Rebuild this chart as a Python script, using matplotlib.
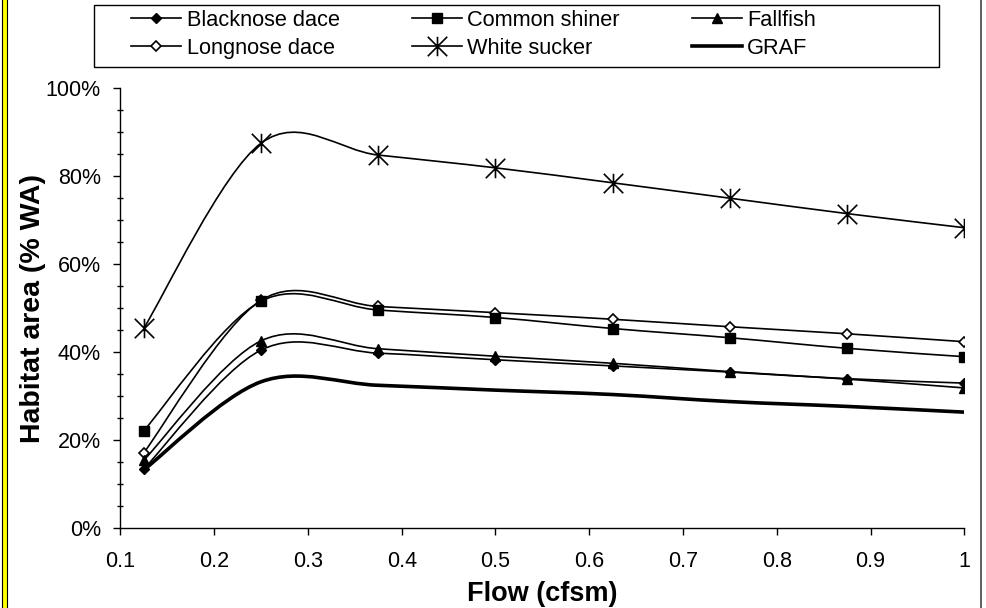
import numpy as np
import matplotlib.pyplot as plt
from matplotlib.path import Path
from matplotlib.patches import PathPatch, Rectangle
from matplotlib.lines import Line2D
from matplotlib.ticker import MultipleLocator, PercentFormatter, FuncFormatter

plt.rcParams['font.family'] = ['Liberation Sans', 'DejaVu Sans']

# flow (cfsm) and habitat area (% WA) per species
flow = [0.125, 0.25, 0.375, 0.5, 0.625, 0.75, 0.875, 1.0]
blacknose = [13.5, 40.5, 39.8, 38.3, 36.9, 35.5, 34.0, 33.0]
longnose = [17.2, 51.8, 50.4, 49.0, 47.5, 45.8, 44.2, 42.4]
common = [22.2, 51.6, 49.6, 47.9, 45.4, 43.3, 40.9, 39.0]
fallfish = [15.5, 42.6, 40.8, 39.1, 37.5, 35.6, 33.9, 31.9]
white = [45.5, 87.5, 84.8, 81.9, 78.5, 75.0, 71.5, 68.3]
graf = [13.3, 33.3, 32.5, 31.4, 30.4, 28.8, 27.7, 26.4]

# Excel-style asterisk: an X with a vertical bar through it
STAR = Path([(-1, -1), (1, 1), (-1, 1), (1, -1), (0, -1), (0, 1)],
            [Path.MOVETO, Path.LINETO] * 3)


def smooth_path(x, y):
    '''Bezier path through the points, like an Excel smoothed line.'''
    pts = np.column_stack([x, y]).astype(float)
    n = len(pts)
    verts = [pts[0]]
    for i in range(n - 1):
        p0 = pts[max(i - 1, 0)]
        p1, p2 = pts[i], pts[i + 1]
        p3 = pts[min(i + 2, n - 1)]
        verts += [p1 + (p2 - p0) / 6, p2 - (p3 - p1) / 6, p2]
    return Path(verts, [Path.MOVETO] + [Path.CURVE4] * (3 * (n - 1)))


series = [
    # label, values, marker style
    ('Blacknose dace', blacknose, dict(marker='D', ms=5.5, mfc='k', mec='k')),
    ('Longnose dace', longnose, dict(marker='D', ms=5.0, mfc='white', mec='k', mew=1.2)),
    ('Common shiner', common, dict(marker='s', ms=6.5, mfc='k', mec='k')),
    ('White sucker', white, dict(marker=STAR, ms=14, mfc='none', mec='k', mew=1.2)),
    ('Fallfish', fallfish, dict(marker='^', ms=7.5, mfc='k', mec='k')),
]

fig = plt.figure(figsize=(9.87, 6.08), dpi=100)
ax = fig.add_axes([0.122, 0.131, 0.855, 0.724])

handles = []
for label, vals, style in series:
    ax.add_patch(PathPatch(smooth_path(flow, vals), fill=False, lw=1.2, ec='k', zorder=2))
    ax.plot(flow, vals, ls='none', zorder=3, **style)
    handles.append(Line2D([], [], color='k', lw=1.2, **style))

ax.add_patch(PathPatch(smooth_path(flow, graf), fill=False, lw=2.6, ec='k', zorder=2))
handles.append(Line2D([], [], color='k', lw=2.6))
labels = [s[0] for s in series] + ['GRAF']

ax.set_xlim(0.1, 1.0)
ax.set_ylim(0, 100)
ax.xaxis.set_major_locator(MultipleLocator(0.1))
ax.xaxis.set_major_formatter(FuncFormatter(lambda v, _: '%g' % round(v, 2)))
ax.yaxis.set_major_locator(MultipleLocator(20))
ax.yaxis.set_minor_locator(MultipleLocator(5))
ax.yaxis.set_major_formatter(PercentFormatter(decimals=0))

for side in ['top', 'right']:
    ax.spines[side].set_visible(False)
for side in ['left', 'bottom']:
    ax.spines[side].set_linewidth(1.0)

ax.tick_params(axis='both', which='major', direction='out', length=5, width=1,
               labelsize=15.5, pad=9)
ax.tick_params(axis='x', pad=11)
ax.tick_params(axis='y', which='minor', direction='inout', length=5, width=1)

ax.set_xlabel('Flow (cfsm)', fontsize=19.5, fontweight='bold', labelpad=7)
ax.set_ylabel('Habitat area (% WA)', fontsize=20.5, fontweight='bold')
ax.yaxis.set_label_coords(-0.088, 0.5)

leg = fig.legend(handles, labels, ncol=3, loc='upper left',
                 bbox_to_anchor=(131 / 987, 1 - 10 / 608), borderaxespad=0,
                 borderpad=0, fontsize=15.7, numpoints=1, handlelength=2.3,
                 handletextpad=0.25, columnspacing=3.3, labelspacing=0.3,
                 frameon=False)

# legend box drawn separately, it is wider than its entries
fig.add_artist(Rectangle((94 / 987, 1 - 67 / 608), 845 / 987, 62 / 608,
                         transform=fig.transFigure, fill=False, edgecolor='k', lw=1.0))

# yellow strip at the left edge and grey border on the right
fig.add_artist(Rectangle((2.5 / 987, -0.01), 5 / 987, 1.02, transform=fig.transFigure,
                         facecolor='yellow', edgecolor='k', lw=0.8))
fig.add_artist(Line2D([981.5 / 987] * 2, [0, 1], transform=fig.transFigure,
                      color='#444444', lw=1.2))

fig.savefig('out.png', dpi=100)
